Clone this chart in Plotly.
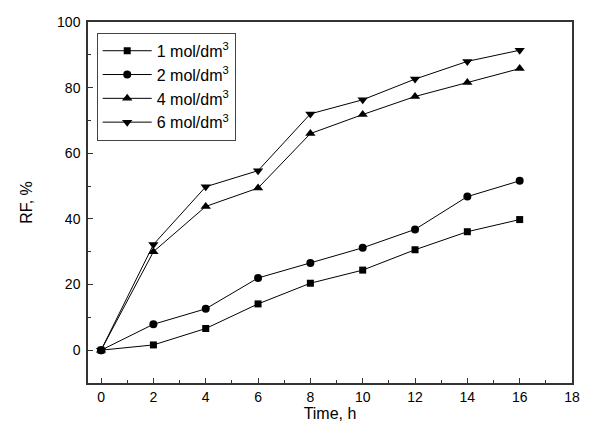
import plotly.graph_objects as go

time_h = [0, 2, 4, 6, 8, 10, 12, 14, 16]
rf_1 = [0, 1.6, 6.6, 14.1, 20.4, 24.4, 30.6, 36.1, 39.8]
rf_2 = [0, 7.9, 12.6, 22.0, 26.6, 31.2, 36.8, 46.8, 51.6]
rf_4 = [0, 30.0, 43.8, 49.4, 66.0, 71.8, 77.3, 81.6, 85.8]
rf_6 = [0, 32.2, 49.8, 54.7, 72.0, 76.3, 82.6, 88.0, 91.4]
names = ["1 mol/dm<sup>3</sup>", "2 mol/dm<sup>3</sup>", "4 mol/dm<sup>3</sup>", "6 mol/dm<sup>3</sup>"]
symbols = ["square", "circle", "triangle-up", "triangle-down"]
sizes = [7, 8, 9, 9]

FONT = "Liberation Sans, Arial, sans-serif"

fig = go.Figure()
for ys, nm, sym, sz in zip([rf_1, rf_2, rf_4, rf_6], names, symbols, sizes):
    fig.add_trace(go.Scatter(
        x=time_h, y=ys, name=nm, mode="lines+markers",
        line=dict(color="black", width=1),
        marker=dict(symbol=sym, size=sz, color="black"),
    ))

axis_common = dict(
    showline=True, linecolor="#333", linewidth=1.5, mirror=True,
    ticks="inside", ticklen=5, tickcolor="#333", tickwidth=1,
    showgrid=False, zeroline=False, automargin=False,
    tickfont=dict(family=FONT, size=14, color="black"),
)
fig.update_xaxes(range=[-0.5, 18], dtick=2, ticklabelstandoff=0,
                 minor=dict(ticks="inside", ticklen=3, dtick=1, tickcolor="#333"),
                 title=dict(text="Time, h", font=dict(family=FONT, size=16, color="black"), standoff=2),
                 **axis_common)
fig.update_yaxes(range=[-10, 100], dtick=20, ticklabelstandoff=3,
                 minor=dict(ticks="inside", ticklen=3, dtick=10, tickcolor="#333"),
                 title=dict(text="RF, %", font=dict(family=FONT, size=16, color="black"), standoff=20),
                 **axis_common)

# page has an 8px body margin, so the figure is sized/offset to compensate
fig.update_layout(
    width=587, height=424,
    margin=dict(l=80, r=23, t=14, b=49),
    plot_bgcolor="white", paper_bgcolor="white",
    font=dict(family=FONT),
    legend=dict(x=0.018, y=0.97, xanchor="left", yanchor="top",
                bordercolor="#444", borderwidth=1, bgcolor="white",
                font=dict(family=FONT, size=16, color="black"),
                tracegroupgap=0, itemsizing="trace", itemwidth=49),
)
fig.write_html("out.html")
